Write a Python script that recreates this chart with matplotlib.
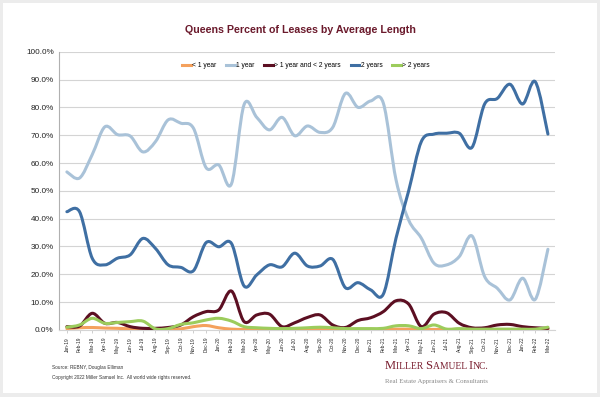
import matplotlib
matplotlib.use("Agg")
import matplotlib.pyplot as plt
from matplotlib.path import Path
from matplotlib.patches import PathPatch, Rectangle
import numpy as np

months = ["Jan-19","Feb-19","Mar-19","Apr-19","May-19","Jun-19","Jul-19","Aug-19","Sep-19","Oct-19","Nov-19","Dec-19",
          "Jan-20","Feb-20","Mar-20","Apr-20","May-20","Jun-20","Jul-20","Aug-20","Sep-20","Oct-20","Nov-20","Dec-20",
          "Jan-21","Feb-21","Mar-21","Apr-21","May-21","Jun-21","Jul-21","Aug-21","Sep-21","Oct-21","Nov-21","Dec-21",
          "Jan-22","Feb-22","Mar-22"]

lt1 = [0.5,0.8,0.9,0.7,0.6,0.4,0.3,0.2,0.2,0.4,1.2,1.6,0.8,0.3,0.2,0.2,0.2,0.2,0.2,0.2,0.3,0.2,0.2,0.2,
       0.2,0.2,0.3,0.3,0.2,0.2,0.2,0.2,0.2,0.2,0.2,0.2,0.2,0.2,0.3]
one_year = [56.8,54.6,63.0,73.0,70.2,69.7,64.0,67.7,75.5,74.3,72.5,58.3,59.3,52.5,81.0,76.4,71.9,76.4,69.8,73.3,
            71.0,72.8,85.0,80.0,82.3,81.5,54.0,39.5,33.0,24.0,23.4,26.4,33.8,19.2,15.0,10.8,18.6,11.0,29.0]
mid = [1.2,1.4,6.0,2.4,2.7,1.2,0.6,0.6,0.9,1.8,4.8,6.6,7.2,14.0,3.0,5.4,5.7,1.2,2.6,4.5,5.4,1.8,0.9,3.4,
       4.4,6.6,10.5,9.3,1.2,5.7,6.2,2.4,0.8,0.8,1.8,2.0,1.2,0.8,0.6]
two_years = [42.5,42.5,25.8,23.4,25.8,27.0,32.9,29.3,23.4,22.5,21.3,31.4,29.9,31.1,15.8,19.8,23.4,22.7,27.6,23.0,
             23.0,25.4,15.2,17.0,14.4,12.9,33.0,50.0,67.7,70.4,70.7,70.7,65.6,81.2,83.2,88.3,81.2,89.2,70.4]
gt2 = [1.0,1.8,4.2,2.4,2.7,3.0,3.2,0.4,0.5,2.0,2.6,3.6,4.2,3.2,1.2,0.8,0.6,0.5,0.6,0.8,1.0,0.8,0.5,0.5,
       0.5,0.6,1.5,1.5,0.5,1.8,0.3,0.5,0.3,0.3,0.3,0.3,0.3,0.3,1.0]

series_names = ["< 1 year", "1 year", "> 1 year and < 2 years", "2 years", "> 2 years"]
series_values = [lt1, one_year, mid, two_years, gt2]
colors = ["#f4a15d", "#a9c2d8", "#5c0f22", "#3f6fa3", "#9ccc5c"]

fig = plt.figure(figsize=(6.0, 3.97), dpi=100)
fig.patch.set_facecolor("#ececec")
fig.patches.append(Rectangle((3/600, 4/397), 594/600, 390/397, transform=fig.transFigure,
                             facecolor="white", edgecolor="none", zorder=-10))

ax = fig.add_axes([0.0988, 0.1688, 0.826, 0.701])
ax.set_zorder(5)
ax.set_facecolor("white")

def smooth_path(xs, ys):
    xs = np.asarray(xs, float); ys = np.asarray(ys, float)
    n = len(xs)
    verts = [(xs[0], ys[0])]
    codes = [Path.MOVETO]
    for i in range(n - 1):
        p0 = np.array([xs[max(i-1, 0)], ys[max(i-1, 0)]])
        p1 = np.array([xs[i], ys[i]])
        p2 = np.array([xs[i+1], ys[i+1]])
        p3 = np.array([xs[min(i+2, n-1)], ys[min(i+2, n-1)]])
        c1 = p1 + (p2 - p0) / 6.0
        c2 = p2 - (p3 - p1) / 6.0
        verts += [tuple(c1), tuple(c2), tuple(p2)]
        codes += [Path.CURVE4] * 3
    return Path(verts, codes)

x = np.arange(len(months))
for name, vals, c in zip(series_names, series_values, colors):
    p = PathPatch(smooth_path(x, vals), facecolor="none", edgecolor=c, lw=2.2,
                  capstyle="round", joinstyle="round", zorder=3)
    ax.add_patch(p)
    ax.plot([], [], color=c, lw=2.2, label=name)

ax.set_xlim(-0.6, len(months) - 1 + 0.55)
ax.set_ylim(0, 100)
ax.set_yticks(np.arange(0, 101, 10))
ax.set_yticklabels([f"{v:.1f}%" for v in range(0, 101, 10)], fontsize=5.9, family="Liberation Sans")
ax.set_xticks(x)
ax.set_xticklabels(months, rotation=90, fontsize=3.4, family="Liberation Sans")
ax.tick_params(axis="y", length=0, pad=4, colors="#222222")
ax.tick_params(axis="x", length=2, width=0.5, color="#bbbbbb", pad=3, labelcolor="#222222")
ax.grid(axis="y", color="#d4d4d4", lw=0.8)
ax.set_axisbelow(True)
for s in ["top", "right"]:
    ax.spines[s].set_visible(False)
ax.spines["left"].set_color("#b0b0b0")
ax.spines["left"].set_linewidth(0.8)
ax.spines["bottom"].set_color("#d4d4d4")
ax.spines["bottom"].set_linewidth(0.8)

leg = ax.legend(loc="center", bbox_to_anchor=(306/600, 1 - 65.7/397), bbox_transform=fig.transFigure,
                ncol=5, frameon=False, handlelength=1.3, handletextpad=0.2,
                columnspacing=1.45, prop={"family": "Liberation Sans", "size": 4.8})

fig.text(300/600, 1 - 30/397, "Queens Percent of Leases by Average Length", ha="center", va="center",
         fontsize=7.7, fontweight="bold", color="#6b1a2c", family="Liberation Sans")

fig.text(52/600, 1 - 368/397, "Source: REBNY, Douglas Elliman", fontsize=3.4, va="center",
         family="Liberation Sans", color="#333333")
fig.text(52/600, 1 - 378/397, "Copyright 2022 Miller Samuel Inc.  All world wide rights reserved.", fontsize=3.4,
         va="center", family="Liberation Sans", color="#333333")

# Logo text (small caps emulation)
fig.canvas.draw()
renderer = fig.canvas.get_renderer()
parts = [("M", 9.0), ("ILLER ", 6.9), ("S", 9.0), ("AMUEL ", 6.9), ("I", 9.0), ("NC.", 6.9)]
xpix = 385.0
ybase = 1 - 369/397
for txt, fs in parts:
    t = fig.text(xpix/600, ybase, txt, fontsize=fs, family="Liberation Serif", color="#7a1f30",
                 va="baseline", ha="left")
    bb = t.get_window_extent(renderer)
    xpix += bb.width
fig.text(385/600, 1 - 381/397, "Real Estate Appraisers & Consultants", fontsize=4.9, family="Liberation Serif",
         color="#888888", va="center", ha="left")

fig.savefig("out.png", dpi=100, facecolor=fig.get_facecolor())
